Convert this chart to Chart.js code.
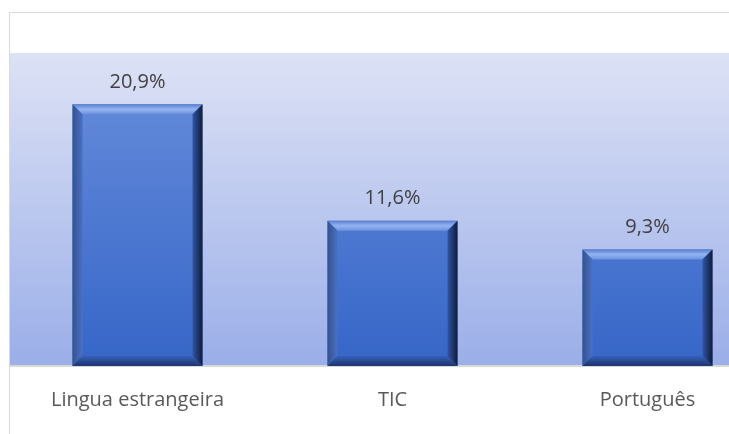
<!DOCTYPE html>
<html>
<head>
<meta charset="utf-8">
<script src="https://cdn.jsdelivr.net/npm/chart.js@4/dist/chart.umd.min.js"></script>
<style>
  html, body { margin: 0; padding: 0; background: #fff; overflow: hidden; }
  body { width: 729px; height: 434px; position: relative; }
  #frame {
    position: absolute; left: 9px; top: 12px; right: -5px; bottom: -5px;
    border-top: 1px solid #d9d9d9; border-left: 1px solid #d9d9d9;
  }
  #wrap { position: absolute; left: 10px; top: 13px; width: 765px; height: 421px; }
</style>
</head>
<body>
<div id="frame"></div>
<div id="wrap"><canvas id="chart" width="765" height="421"></canvas></div>
<script>
// Chart data
const categories = ['Lingua estrangeira', 'TIC', 'Português']
const shares = [20.9, 11.6, 9.3]
const valueLabels = ['20,9%', '11,6%', '9,3%']

const FONT = '"Open Sans", "Noto Sans", sans-serif'

// Plot area gradient background
const plotBackground = {
  id: 'plotBackground',
  beforeDraw (chart) {
    const { ctx, chartArea: a } = chart
    const g = ctx.createLinearGradient(0, a.top, 0, a.bottom)
    g.addColorStop(0, '#dde2f5')
    g.addColorStop(1, '#9aaee8')
    ctx.save()
    ctx.fillStyle = g
    ctx.fillRect(a.left, a.top, a.right - a.left, a.bottom - a.top)
    ctx.restore()
  }
}

// Bevel edges + value labels on top of bars
const bevelBars = {
  id: 'bevelBars',
  afterDatasetsDraw (chart) {
    const { ctx } = chart
    const meta = chart.getDatasetMeta(0)
    ctx.save()
    meta.data.forEach((bar, i) => {
      const l = bar.x - bar.width / 2
      const r = bar.x + bar.width / 2
      const t = bar.y
      const b = bar.base
      const s = 10

      const poly = (pts, fill) => {
        ctx.beginPath()
        ctx.moveTo(pts[0][0], pts[0][1])
        pts.slice(1).forEach(p => ctx.lineTo(p[0], p[1]))
        ctx.closePath()
        ctx.fillStyle = fill
        ctx.fill()
      }

      // top bevel
      let g = ctx.createLinearGradient(0, t, 0, t + s)
      g.addColorStop(0, '#5b7fcf')
      g.addColorStop(0.5, '#93b4f2')
      g.addColorStop(1, '#6b8fdc')
      poly([[l, t], [r, t], [r - s, t + s], [l + s, t + s]], g)
      // left bevel
      g = ctx.createLinearGradient(l, 0, l + s, 0)
      g.addColorStop(0, '#34528f')
      g.addColorStop(1, '#4b70c2')
      poly([[l, t], [l + s, t + s], [l + s, b - s], [l, b]], g)
      // right bevel
      g = ctx.createLinearGradient(r - s, 0, r, 0)
      g.addColorStop(0, '#2f55a8')
      g.addColorStop(1, '#0f1c3a')
      poly([[r, t], [r, b], [r - s, b - s], [r - s, t + s]], g)
      // bottom bevel
      g = ctx.createLinearGradient(0, b - s, 0, b)
      g.addColorStop(0, '#3560b8')
      g.addColorStop(1, '#1c356e')
      poly([[l, b], [l + s, b - s], [r - s, b - s], [r, b]], g)

      // value label
      ctx.fillStyle = '#404040'
      ctx.font = '20px ' + FONT
      ctx.textAlign = 'center'
      ctx.textBaseline = 'bottom'
      ctx.fillText(valueLabels[i], bar.x, t - 12)
    })
    ctx.restore()
  }
}

const canvas = document.getElementById('chart')
const ctx = canvas.getContext('2d')
const barFill = ctx.createLinearGradient(0, 40, 0, 351)
barFill.addColorStop(0, '#6a8fdc')
barFill.addColorStop(1, '#3666c8')

new Chart(ctx, {
  type: 'bar',
  data: {
    labels: categories,
    datasets: [{
      data: shares,
      backgroundColor: barFill,
      borderWidth: 0,
      categoryPercentage: 1,
      barPercentage: 0.51
    }]
  },
  options: {
    responsive: false,
    animation: false,
    devicePixelRatio: 1,
    layout: { padding: { top: 40, left: 0, right: 0, bottom: 0 } },
    plugins: { legend: { display: false }, tooltip: { enabled: false } },
    scales: {
      x: {
        grid: { display: false, drawTicks: false },
        border: { display: true, color: '#d9d9d9', width: 2 },
        ticks: { color: '#595959', font: { family: FONT, size: 20 }, padding: 22 }
      },
      y: { display: false, min: 0, max: 25 }
    }
  },
  plugins: [plotBackground, bevelBars]
})
</script>
</body>
</html>
